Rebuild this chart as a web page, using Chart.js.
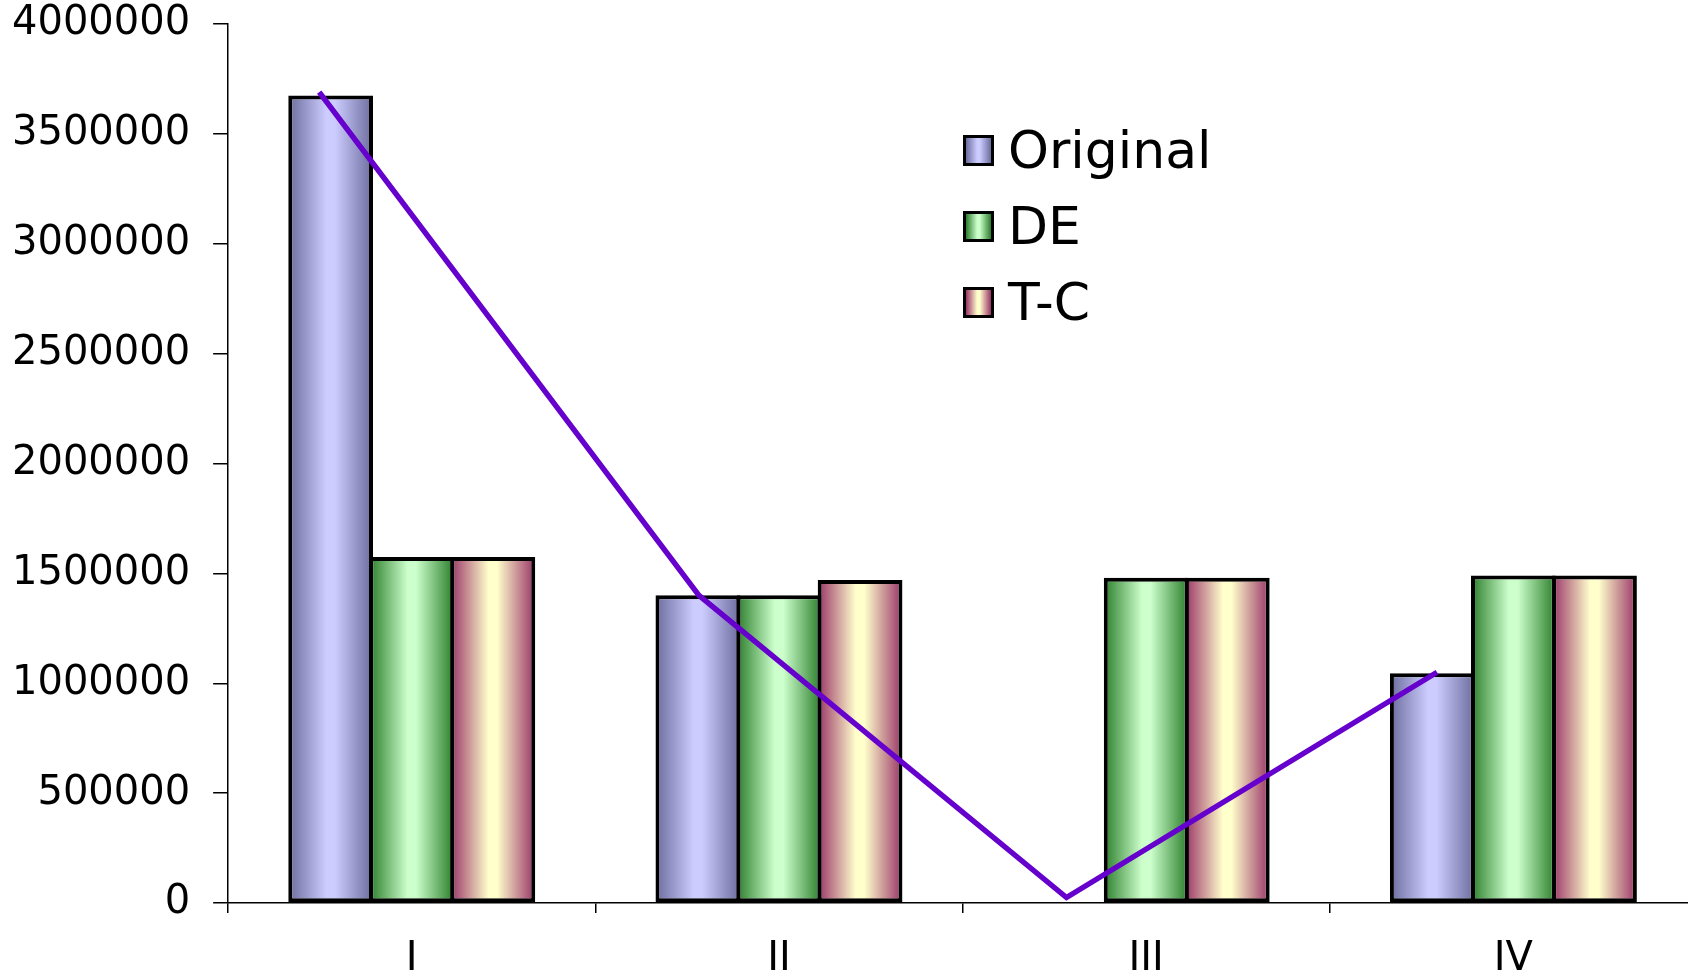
<!DOCTYPE html>
<html>
<head>
<meta charset="utf-8">
<script src="https://cdn.jsdelivr.net/npm/chart.js@4"></script>
<style>
  html, body { margin: 0; padding: 0; background: #fff; overflow: hidden; }
  /* canvas runs a little past the window top and right, like the cropped original */
  #wrap { position: absolute; left: 0; top: -19px; width: 1700px; height: 993px; }
  #legend { position: absolute; left: 963px; top: 112px; font-family: "DejaVu Sans", Verdana, sans-serif; font-size: 52px; color: #000; }
  .item { display: flex; align-items: center; height: 76px; }
  .box { width: 25px; height: 25px; border: 3.5px solid #000; margin-right: 14px; }
</style>
</head>
<body>
<div id="wrap"><canvas id="chart"></canvas></div>
<div id="legend"></div>
<script>
// data
const categories = ['I', 'II', 'III', 'IV'];
const seriesNames = ['Original', 'DE', 'T-C'];
const originalValues = [3675000, 1400000, 0, 1045000];
const deValues = [1575000, 1400000, 1480000, 1490000];
const tcValues = [1575000, 1470000, 1480000, 1490000];
// trend line: position along the category axis (0 = I) and value
const trendX = [-0.252, 0.782, 1.783, 2.792];
const trendValues = [3690000, 1400000, 25000, 1050000];
const yTickLabels = ['0', '500000', '1000000', '1500000', '2000000', '2500000', '3000000', '3500000', '4000000'];

// edge colour / centre colour of each bar gradient
const edgeColors = ['#6b6b9c', '#2a7d2a', '#993366'];
const lightColors = ['#ccccff', '#ccffcc', '#ffffcc'];

const catPct = 0.6626;
const barPct = 1.045;

// bars and line share one hidden numeric x scale (category index = x),
// the visible category axis only carries the labels and ticks
const barValues = [originalValues, deValues, tcValues];
const datasets = seriesNames.map(function(name, i) {
    return {
        type: 'bar',
        label: name,
        data: barValues[i].map(function(v, k) { return { x: k, y: v }; }),
        // scriptable so each bar keeps its own options object
        backgroundColor: function() { return lightColors[i]; },
        borderColor: '#000',
        borderWidth: 4,
        borderSkipped: false,
        categoryPercentage: catPct,
        barPercentage: barPct,
        xAxisID: 'xl',
        order: 2
    };
});

datasets.push({
    type: 'line',
    label: 'trend',
    data: trendValues.map(function(v, k) { return { x: trendX[k], y: v }; }),
    borderColor: '#6600cc',
    borderWidth: 5.5,
    pointRadius: 0,
    tension: 0,
    fill: false,
    xAxisID: 'xl',
    order: 1
});

// horizontal shading on every bar, built from the bar's own geometry
const barShading = {
    id: 'barShading',
    beforeDatasetsDraw: function(chart) {
        for (let i = 0; i < seriesNames.length; i++) {
            chart.getDatasetMeta(i).data.forEach(function(el) {
                const half = el.width / 2;
                const g = chart.ctx.createLinearGradient(el.x - half, 0, el.x + half, 0);
                g.addColorStop(0, edgeColors[i]);
                g.addColorStop(0.45, lightColors[i]);
                g.addColorStop(0.55, lightColors[i]);
                g.addColorStop(1, edgeColors[i]);
                el.options.backgroundColor = g;
            });
        }
    }
};

const axisFont = { family: '"DejaVu Sans", Verdana, sans-serif', size: 40, lineHeight: 1 };

new Chart(document.getElementById('chart').getContext('2d'), {
    type: 'bar',
    data: { labels: categories, datasets: datasets },
    options: {
        responsive: true,
        maintainAspectRatio: false,
        animation: false,
        layout: { padding: { left: -11, top: 0, right: 3, bottom: -33 } },
        plugins: {
            legend: { display: false },
            tooltip: { enabled: false }
        },
        scales: {
            x: {
                type: 'category',
                offset: true,
                grid: { display: true, drawOnChartArea: false, offset: true, tickLength: 10, color: '#000', lineWidth: 1.5 },
                border: { display: true, color: '#000', width: 1.5 },
                ticks: { color: '#000', font: axisFont, padding: 27, maxRotation: 0 }
            },
            xl: {
                type: 'linear',
                display: false,
                offset: false,
                min: -0.5,
                max: categories.length - 0.5,
                afterBuildTicks: function(scale) {
                    scale.ticks = categories.map(function(c, k) { return { value: k }; });
                }
            },
            y: {
                min: 0,
                max: 4000000,
                grid: { display: true, drawOnChartArea: false, tickLength: 15, color: '#000', lineWidth: 1.5 },
                border: { display: true, color: '#000', width: 1.5 },
                ticks: {
                    stepSize: 500000,
                    color: '#000',
                    font: axisFont,
                    padding: 23,
                    callback: function(v, idx) { return yTickLabels[idx]; }
                }
            }
        }
    },
    plugins: [barShading]
});

// legend
const legend = document.getElementById('legend');
seriesNames.forEach(function(name, i) {
    const row = document.createElement('div');
    row.className = 'item';
    const box = document.createElement('div');
    box.className = 'box';
    box.style.background = 'linear-gradient(to right, ' + edgeColors[i] + ', ' + lightColors[i] + ' 45%, ' + lightColors[i] + ' 55%, ' + edgeColors[i] + ')';
    const txt = document.createElement('span');
    txt.textContent = name;
    row.appendChild(box);
    row.appendChild(txt);
    legend.appendChild(row);
});
</script>
</body>
</html>
